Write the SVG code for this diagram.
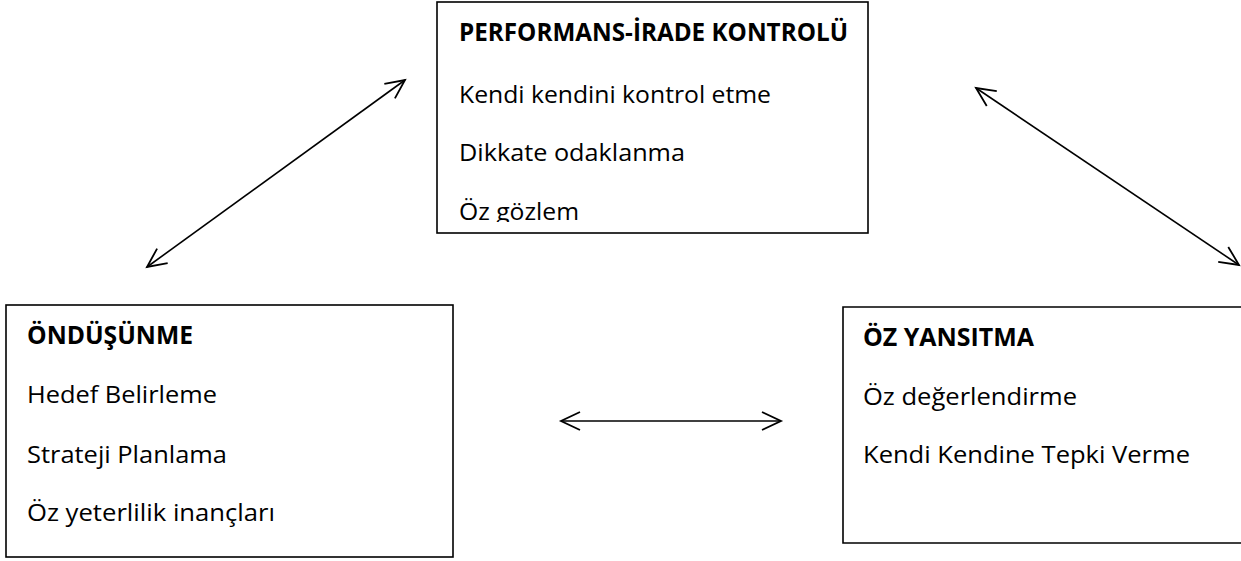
<svg xmlns="http://www.w3.org/2000/svg" width="1241" height="561" viewBox="0 0 1241 561">
<style>
.box{fill:#fff;stroke:#000;stroke-width:1.6}
.t{font-family:"Open Sans","Liberation Sans",sans-serif;font-size:24.5px;fill:#000}
.b{font-weight:bold}
.c{fill:none;stroke:#000;stroke-width:1.6}
</style>
<defs>
<marker id="ah" markerUnits="userSpaceOnUse" markerWidth="30" markerHeight="30" viewBox="-25 -15 30 30" refX="0" refY="0" orient="auto-start-reverse">
<path d="M-19,-9 L0,0 L-19,9" fill="none" stroke="#000" stroke-width="1.8"/>
</marker>
<clipPath id="topclip"><rect x="437" y="0" width="432" height="222"/></clipPath>
</defs>
<g id="connectors">
<line class="c" x1="147" y1="267" x2="405" y2="80" marker-start="url(#ah)" marker-end="url(#ah)"/>
<line class="c" x1="976" y1="88" x2="1239" y2="265" marker-start="url(#ah)" marker-end="url(#ah)"/>
<line class="c" x1="561" y1="421" x2="781" y2="421" marker-start="url(#ah)" marker-end="url(#ah)"/>
</g>
<g id="performans">
<rect class="box" x="437" y="2" width="431" height="231"/>
<g clip-path="url(#topclip)">
<text class="t b" x="459" y="41" textLength="389" lengthAdjust="spacingAndGlyphs">PERFORMANS-İRADE KONTROLÜ</text>
<text class="t" x="459" y="103" textLength="312" lengthAdjust="spacingAndGlyphs">Kendi kendini kontrol etme</text>
<text class="t" x="459" y="161" textLength="226" lengthAdjust="spacingAndGlyphs">Dikkate odaklanma</text>
<text class="t" x="459" y="220" textLength="120" lengthAdjust="spacingAndGlyphs">Öz gözlem</text>
</g>
</g>
<g id="ondusunme">
<rect class="box" x="6" y="305" width="447" height="252"/>
<text class="t b" x="27" y="344" textLength="166" lengthAdjust="spacingAndGlyphs">ÖNDÜŞÜNME</text>
<text class="t" x="27" y="403" textLength="190" lengthAdjust="spacingAndGlyphs">Hedef Belirleme</text>
<text class="t" x="27" y="463" textLength="200" lengthAdjust="spacingAndGlyphs">Strateji Planlama</text>
<text class="t" x="27" y="521" textLength="248" lengthAdjust="spacingAndGlyphs">Öz yeterlilik inançları</text>
</g>
<g id="ozyansitma">
<path class="c" d="M1241,307 H843 V543 H1241"/>
<text class="t b" x="863" y="346" textLength="171" lengthAdjust="spacingAndGlyphs">ÖZ YANSITMA</text>
<text class="t" x="863" y="405" textLength="214" lengthAdjust="spacingAndGlyphs">Öz değerlendirme</text>
<text class="t" x="863" y="463" textLength="327" lengthAdjust="spacingAndGlyphs">Kendi Kendine Tepki Verme</text>
</g>
</svg>
